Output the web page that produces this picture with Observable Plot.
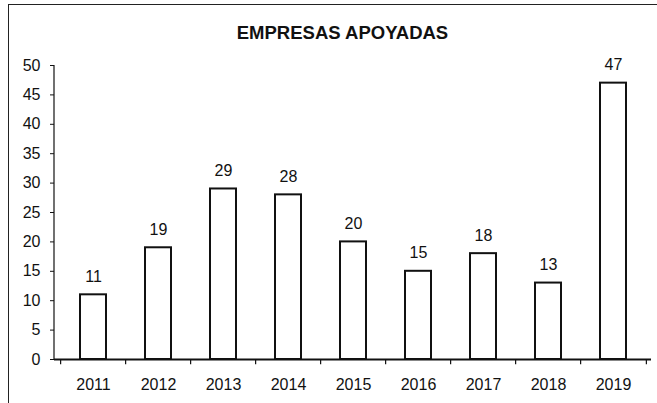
<!DOCTYPE html>
<html>
<head>
<meta charset="utf-8">
<script src="https://cdn.jsdelivr.net/npm/d3@7"></script>
<script src="https://cdn.jsdelivr.net/npm/@observablehq/plot@0.6"></script>
<style>
  html, body { margin: 0; padding: 0; background: #fff; }
  #wrap { position: relative; width: 657px; height: 403px; overflow: hidden; }
  #frame { position: absolute; left: 8px; top: 4px; width: 660px; height: 410px;
           border-left: 1.5px solid #222; border-top: 1.5px solid #222; box-sizing: border-box; }
  #chart { position: absolute; left: 0; top: 0; }
</style>
</head>
<body>
<div id="wrap"><div id="frame"></div><div id="chart"></div></div>
<script>
const title = "EMPRESAS APOYADAS";
const years = ["2011", "2012", "2013", "2014", "2015", "2016", "2017", "2018", "2019"];
const values = [11, 19, 29, 28, 20, 15, 18, 13, 47];
const yTicks = [0, 5, 10, 15, 20, 25, 30, 35, 40, 45, 50];

const data = years.map((y, i) => ({year: y, value: values[i]}));

const W = 657, H = 403;
const mL = 54, mR = 6, mT = 65, mB = 44;
const pIn = 0.6, pOut = 0.34;
const step = (W - mL - mR) / (years.length - pIn + 2 * pOut);
const font = "'Liberation Sans', Arial, sans-serif";

const chart = Plot.plot({
  width: W,
  height: H,
  marginLeft: mL,
  marginRight: mR,
  marginTop: mT,
  marginBottom: mB,
  style: {fontFamily: font, fontSize: "16px", color: "#111", background: "transparent", overflow: "visible"},
  x: {domain: years, paddingInner: pIn, paddingOuter: pOut, label: null},
  y: {domain: [0, 50], label: null},
  marks: [
    Plot.barY(data, {x: "year", y: "value", fill: "white", stroke: "#111", strokeWidth: 2}),
    Plot.text(data, {x: "year", y: "value", text: d => String(d.value), dy: -18, fontSize: 16, fill: "#111"}),
    Plot.axisY({ticks: yTicks, tickSize: 4, tickPadding: 10, fontSize: 16, stroke: "#111"}),
    Plot.ruleY([0], {stroke: "#111", strokeWidth: 2}),
    Plot.ruleX(years, {x: d => d, dx: -step / 2, y1: 0, y2: -0.9, stroke: "#111", strokeWidth: 1.2}),
    Plot.ruleX([years[years.length - 1]], {x: d => d, dx: step / 2, y1: 0, y2: -0.9, stroke: "#111", strokeWidth: 1.2}),
    Plot.axisX({tickSize: 0, tickPadding: 19, fontSize: 16}),
    Plot.text([title], {frameAnchor: "top", dy: -27, dx: -(mL + (W - mL - mR) / 2 - 342), text: d => d,
      fontSize: 18.5, fontWeight: "bold", fill: "#111", lineAnchor: "bottom"})
  ]
});

document.getElementById("chart").appendChild(chart);

// vertical y-axis line, placed with the plot's own y scale
const sy = chart.scale("y");
d3.select(chart).append("line")
  .attr("x1", mL).attr("x2", mL)
  .attr("y1", sy.apply(0)).attr("y2", sy.apply(50))
  .attr("stroke", "#111").attr("stroke-width", 1.2);
</script>
</body>
</html>
